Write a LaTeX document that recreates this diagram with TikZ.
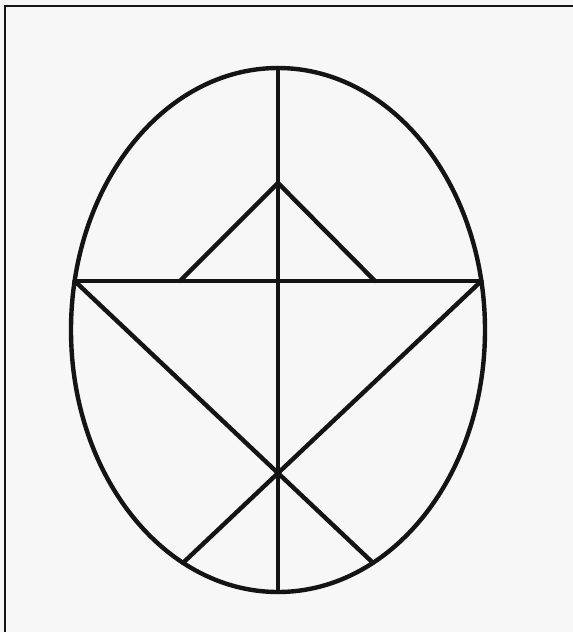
\documentclass[tikz,border=0pt]{standalone}
\usetikzlibrary{calc}
\definecolor{ink}{HTML}{141414}
\definecolor{paper}{HTML}{F7F7F7}
\tikzset{
  figline/.style={draw=ink, line width=4.4pt, line cap=round, line join=round},
  frameline/.style={draw=ink, line width=1.6pt}
}
\begin{document}
\begin{tikzpicture}[x=1pt,y=-1pt]
  \path[fill=paper] (0,0) rectangle (573,632);
  \useasboundingbox (0,0) rectangle (573,632);
  % frame (left and top edges)
  \coordinate (fc) at (5,6);
  \coordinate (ft) at (573,6);
  \coordinate (fb) at (5,632);
  \draw[frameline] (fb) -- (fc) -- (ft);
  % key points
  \coordinate (c) at (278,330);
  \coordinate (T) at (278,68);
  \coordinate (B) at (278,592);
  \coordinate (L) at ($(c)+(169.22:207pt and 262pt)$);
  \coordinate (R) at ($(c)+(10.78:207pt and 262pt)$);
  \coordinate (LL) at ($(c)+(242.7:207pt and 262pt)$);
  \coordinate (LR) at ($(c)+(297.3:207pt and 262pt)$);
  \coordinate (A) at (278,183);
  \coordinate (bl) at (180,281);
  \coordinate (br) at (375,281);
  % ellipse
  \draw[figline] (c) ellipse [x radius=207pt, y radius=262pt];
  % vertical axis
  \draw[figline] (T) -- (B);
  % horizontal chord
  \draw[figline] (L) -- (R);
  % small triangle
  \draw[figline] (bl) -- (A) -- (br);
  % diagonals
  \draw[figline] (L) -- (LR);
  \draw[figline] (R) -- (LL);
\end{tikzpicture}
\end{document}
